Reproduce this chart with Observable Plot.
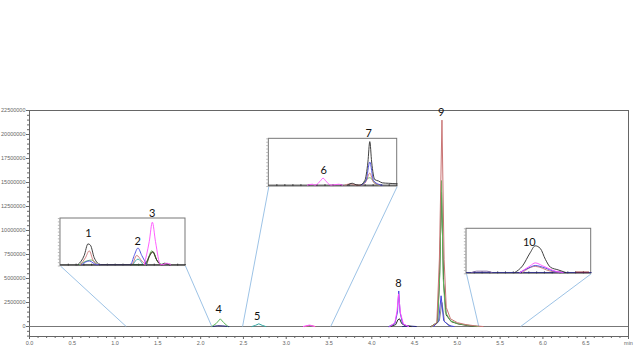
<!DOCTYPE html>
<html><head><meta charset="utf-8">
<script src="https://cdn.jsdelivr.net/npm/d3@7"></script>
<script src="https://cdn.jsdelivr.net/npm/@observablehq/plot@0.6"></script>
<style>body{margin:0;background:#fff}</style>
</head><body><div id="chart"></div>
<script>
// ---------- axis ticks ----------
const xMajorTicks = [0, 0.5, 1, 1.5, 2, 2.5, 3, 3.5, 4, 4.5, 5, 5.5, 6, 6.5, 7];
const yMajorTicks = [0, 2500000, 5000000, 7500000, 10000000, 12500000, 15000000, 17500000, 20000000, 22500000];
const xUnitLabel = "min";

// ---------- main chromatogram traces: [time (min), intensity] ----------
const peak4Green   = [[2.13,0],[2.18,300000],[2.23,800000],[2.27,400000],[2.32,0]];
const peak4Navy    = [[2.14,0],[2.20,80000],[2.26,60000],[2.33,0]];
const peak5Teal    = [[2.60,0],[2.64,120000],[2.68,280000],[2.72,120000],[2.76,0]];
const blob7Red     = [[3.22,0],[3.28,120000],[3.34,0]];
const blob7Magenta = [[3.20,0],[3.27,150000],[3.33,0]];
const peak8Blue    = [[4.20,0],[4.27,300000],[4.30,1500000],[4.315,3700000],[4.33,1500000],[4.36,300000],[4.42,0]];
const peak8Magenta = [[4.21,0],[4.27,400000],[4.295,1600000],[4.313,3400000],[4.335,1400000],[4.37,250000],[4.43,0]];
const peak8Black   = [[4.22,0],[4.28,200000],[4.305,700000],[4.325,800000],[4.35,300000],[4.40,50000],[4.46,0]];
const peak8Navy    = [[4.36,0],[4.42,60000],[4.52,0]];
const peak9Gray    = [[4.72,0],[4.79,600000],[4.82,2500000],[4.85,500000],[4.93,0]];
const peak9Blue    = [[4.72,0],[4.78,500000],[4.81,3200000],[4.84,600000],[4.90,100000],[4.96,0]];
const peak9Green   = [[4.70,0],[4.77,500000],[4.795,5500000],[4.815,15200000],[4.835,5000000],[4.86,1500000],[4.92,600000],[5.00,300000],[5.15,100000],[5.25,0]];
const peak9Black   = [[4.69,0],[4.765,400000],[4.79,4500000],[4.815,14000000],[4.84,4500000],[4.87,1200000],[4.93,500000],[5.02,250000],[5.12,100000],[5.22,0]];
const peak9Red     = [[4.70,0],[4.76,400000],[4.79,7000000],[4.82,21500000],[4.845,7000000],[4.87,2000000],[4.92,800000],[5.00,400000],[5.10,200000],[5.20,80000],[5.30,0]];

const mainLabels = [["4",2.212,1740000],["5",2.661,1070000],["8",4.312,4450000],["9",4.811,22300000]];

// ---------- inset traces: [time (min), relative intensity] ----------
const in1Base    = [[1.13,0],[2.13,0]];
const in1Black   = [[1.27,0],[1.32,0.2],[1.35,0.45],[1.37,0.42],[1.40,0.15],[1.45,0],[1.80,0],[1.845,0.2],[1.87,0.28],[1.90,0.1],[1.94,0],[1.96,0.03],[2.0,0]];
const in1Red     = [[1.29,0],[1.33,0.15],[1.36,0.3],[1.39,0.1],[1.43,0],[1.70,0],[1.74,0.2],[1.78,0.08],[1.81,0]];
const in1Green   = [[1.28,0],[1.34,0.08],[1.38,0.1],[1.43,0],[1.81,0],[1.86,0.3],[1.90,0.1],[1.94,0]];
const in1Olive   = [[1.82,0],[1.865,0.28],[1.91,0.05],[1.93,0]];
const in1Blue    = [[1.30,0],[1.36,0.08],[1.42,0],[1.69,0],[1.72,0.2],[1.75,0.36],[1.78,0.2],[1.82,0]];
const in1Teal    = [[1.71,0],[1.75,0.12],[1.79,0]];
const in1Magenta = [[1.80,0],[1.84,0.5],[1.865,0.92],[1.89,0.5],[1.93,0],[1.95,0],[1.98,0.03],[2.01,0]];

const in2Base    = [[2.49,0],[3.52,0]];
const in2Black   = [[3.12,0],[3.16,0.04],[3.20,0],[3.22,0],[3.26,0.1],[3.285,0.5],[3.30,0.94],[3.315,0.5],[3.34,0.12],[3.37,0.09],[3.40,0.05],[3.45,0.04],[3.52,0.03]];
const in2Blue    = [[3.23,0],[3.27,0.1],[3.30,0.5],[3.33,0.1],[3.37,0.02],[3.40,0]];
const in2Red     = [[3.10,0],[3.15,0.03],[3.19,0],[3.23,0],[3.27,0.08],[3.30,0.26],[3.33,0.06],[3.38,0]];
const in2Green   = [[3.24,0],[3.30,0.16],[3.35,0.02],[3.38,0]];
const in2Magenta = [[2.80,0],[2.84,0.02],[2.86,0],[2.90,0.08],[2.925,0.15],[2.95,0.08],[2.99,0],[3.05,0.02],[3.08,0]];

const in3Base    = [[5.25,0],[5.74,0]];
const in3Purple  = [[5.27,0],[5.29,0.03],[5.33,0.03],[5.35,0]];
const in3Red     = [[5.47,0],[5.52,0.14],[5.58,0.03],[5.62,0]];
const in3Blue    = [[5.46,0],[5.50,0.12],[5.52,0.16],[5.55,0.12],[5.60,0.02],[5.63,0]];
const in3Magenta = [[5.46,0],[5.50,0.15],[5.52,0.22],[5.55,0.15],[5.60,0.03],[5.63,0]];
const in3Black   = [[5.44,0],[5.47,0.15],[5.50,0.45],[5.52,0.61],[5.54,0.55],[5.56,0.3],[5.58,0.12],[5.61,0.06],[5.64,0]];
const in3DarkRed = [[5.68,0.01],[5.73,0.01]];

// ---------- styles ----------
const colors = {black:"#2b2b2b", red:"#c97474", green:"#5cb85c", blue:"#4646e0", magenta:"#ff4dff",
  teal:"#2fa5a0", olive:"#6b6b2a", gray:"#8a8a8a", navy:"#22227a", purple:"#7a5fa0", darkred:"#8b1a1a", dark:"#33331a"};

const mainTraces = [
  ["peak4Navy",peak4Navy,"navy"],["peak4Green",peak4Green,"green"],["peak5Teal",peak5Teal,"teal"],
  ["blob7Red",blob7Red,"red"],["blob7Magenta",blob7Magenta,"magenta"],
  ["peak8Navy",peak8Navy,"navy"],["peak8Black",peak8Black,"black"],["peak8Blue",peak8Blue,"blue"],["peak8Magenta",peak8Magenta,"magenta"],
  ["peak9Gray",peak9Gray,"gray"],["peak9Blue",peak9Blue,"blue"],["peak9Black",peak9Black,"dark"],["peak9Green",peak9Green,"green"],["peak9Red",peak9Red,"red"]
];

// inset placement (in main-chart data units) and zoom window
const vdom = [-0.03, 1.0];
const insets = [
  {win:[1.13,2.13], box:{x:[0.362,1.823], y:[6300000,11250000]},
   traces:[["b",in1Base,"black"],["t",in1Teal,"teal"],["g",in1Green,"green"],["o",in1Olive,"olive"],["r",in1Red,"red"],["bl",in1Blue,"blue"],["k",in1Black,"black"],["m",in1Magenta,"magenta"]],
   labels:[["1",1.354,0.675],["2",1.748,0.50],["3",1.864,1.10]]},
  {win:[2.49,3.52], box:{x:[2.797,4.297], y:[14580000,19550000]},
   traces:[["b",in2Base,"black"],["m",in2Magenta,"magenta"],["g",in2Green,"green"],["r",in2Red,"red"],["bl",in2Blue,"blue"],["k",in2Black,"black"]],
   labels:[["6",2.931,0.315],["7",3.292,1.12]]},
  {win:[5.25,5.74], box:{x:[5.107,6.564], y:[5490000,10180000]},
   traces:[["b",in3Base,"navy"],["p",in3Purple,"purple"],["dr",in3DarkRed,"darkred"],["r",in3Red,"red"],["bl",in3Blue,"blue"],["m",in3Magenta,"magenta"],["k",in3Black,"black"]],
   labels:[["10",5.497,0.693]]}
];

function tx(ins, t) { return ins.box.x[0] + (t - ins.win[0]) / (ins.win[1] - ins.win[0]) * (ins.box.x[1] - ins.box.x[0]); }
function ty(ins, v) { return ins.box.y[0] + (v - vdom[0]) / (vdom[1] - vdom[0]) * (ins.box.y[1] - ins.box.y[0]); }

// ---------- build tables ----------
const mainRows = mainTraces.flatMap(([id, pts, c]) => pts.map(([t, v]) => ({id, t, v, c: colors[c]})));
const insetRows = insets.flatMap((ins, i) => ins.traces.flatMap(([id, pts, c]) =>
  pts.map(([t, v]) => ({id: i + id, t: tx(ins, t), v: ty(ins, v), c: colors[c]}))));
const boxes = insets.map(ins => ({x1: ins.box.x[0], x2: ins.box.x[1], y1: ins.box.y[0], y2: ins.box.y[1]}));
const connectors = insets.flatMap(ins => [
  {x1: ins.box.x[0], y1: ins.box.y[0], x2: ins.win[0], y2: 0},
  {x1: ins.box.x[1], y1: ins.box.y[0], x2: ins.win[1], y2: 0}
]);
const insetLeftTicks = insets.flatMap(ins => d3.range(0, 1.0001, 1/14).map(f => ({
  y: ins.box.y[0] + f * (ins.box.y[1] - ins.box.y[0]), x1: ins.box.x[0] - 0.025, x2: ins.box.x[0]})));
const insetBottomTicks = insets.flatMap(ins => d3.range(1, 16).map(k => ({
  x: ins.box.x[0] + k / 16 * (ins.box.x[1] - ins.box.x[0]), y1: ins.box.y[0], y2: ins.box.y[0] + 200000})));
const labelRows = mainLabels.map(([s, t, v]) => ({s, t, v}))
  .concat(insets.flatMap(ins => ins.labels.map(([s, t, v]) => ({s, t: tx(ins, t), v: ty(ins, v)}))));

const xMinor = d3.range(0, 70).map(i => i / 10).filter(d => Math.abs(d * 2 - Math.round(d * 2)) > 1e-6);
const yMinor = d3.range(-1000000, 22500001, 500000).filter(d => d % 2500000 !== 0);

const axisStyle = {fill: "#666", stroke: "#666"};
const chart = Plot.plot({
  width: 640, height: 360,
  marginLeft: 29, marginRight: 12, marginTop: 110, marginBottom: 24,
  style: {fontFamily: "'Liberation Sans', Arial, sans-serif", background: "#fff"},
  x: {domain: [0, 7]},
  y: {domain: [-1040000, 22500000]},
  color: {type: "identity"},
  marks: [
    Plot.frame({stroke: "#666"}),
    Plot.ruleY([0], {stroke: "#777"}),
    Plot.link(connectors, {x1: "x1", y1: "y1", x2: "x2", y2: "y2", stroke: "#9dc3e6", strokeWidth: 1}),
    Plot.rect(boxes, {x1: "x1", x2: "x2", y1: "y1", y2: "y2", fill: "#fff", stroke: "#777"}),
    Plot.ruleY(insetLeftTicks, {y: "y", x1: "x1", x2: "x2", stroke: "#aaa", strokeWidth: 0.8}),
    Plot.ruleX(insetBottomTicks, {x: "x", y1: "y1", y2: "y2", stroke: "#222", strokeWidth: 0.8}),
    Plot.line(insetRows, {x: "t", y: "v", z: "id", stroke: "c", strokeWidth: 0.9, curve: "monotone-x"}),
    Plot.line(mainRows, {x: "t", y: "v", z: "id", stroke: "c", strokeWidth: 1}),
    Plot.text(labelRows, {x: "t", y: "v", text: "s", fontSize: 11, fill: "#111",
      fontFamily: "Lato, 'Open Sans', sans-serif", lineAnchor: "middle"}),
    Plot.axisX({ticks: xMajorTicks, tickSize: 3, tickPadding: 2, fontSize: 5.5, label: null,
      tickFormat: d => d === 7 ? xUnitLabel : d.toFixed(1), ...axisStyle}),
    Plot.axisX({ticks: xMinor, tickSize: 2, tickFormat: () => "", label: null, stroke: "#666"}),
    Plot.axisY({ticks: yMajorTicks, tickSize: 3, tickPadding: 1, fontSize: 5.5, label: null,
      tickFormat: d => String(d), ...axisStyle}),
    Plot.axisY({ticks: yMinor, tickSize: 2, tickFormat: () => "", label: null, stroke: "#666"})
  ]
});
document.getElementById("chart").appendChild(chart);
</script></body></html>
